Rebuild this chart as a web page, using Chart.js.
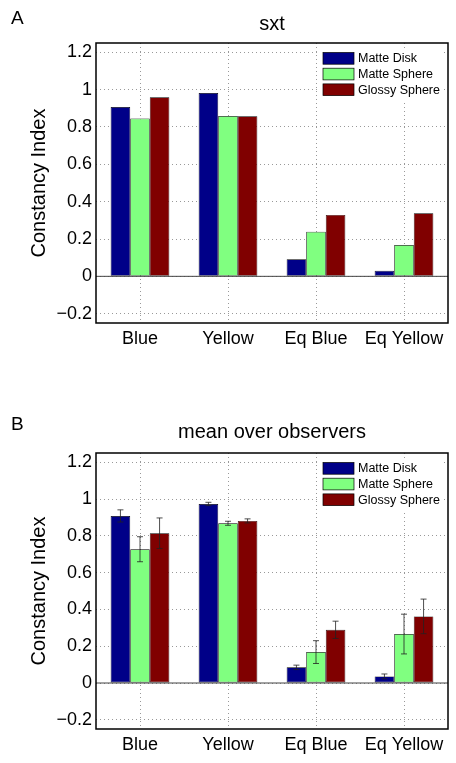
<!DOCTYPE html>
<html>
<head>
<meta charset="utf-8">
<script src="https://cdn.jsdelivr.net/npm/chart.js@4.4.1/dist/chart.umd.min.js"></script>
<style>
  html, body { margin: 0; padding: 0; background: #fff; }
  #wrap { position: relative; width: 456px; height: 763px; }
  .panel { position: absolute; left: 0; width: 456px; }
</style>
</head>
<body>
<div id="wrap">
  <div class="panel" style="top:0;height:360px"><canvas id="chartA" width="456" height="360"></canvas></div>
  <div class="panel" style="top:370px;height:393px"><canvas id="chartB" width="456" height="393"></canvas></div>
</div>
<script>
const categories = ['Blue', 'Yellow', 'Eq Blue', 'Eq Yellow'];
const seriesNames = ['Matte Disk', 'Matte Sphere', 'Glossy Sphere'];
const seriesColors = ['#000088', '#80ff80', '#800000'];
const yTicks = [-0.2, 0, 0.2, 0.4, 0.6, 0.8, 1, 1.2];

// panel A: sxt
const diskA = [0.907, 0.982, 0.091, 0.030];
const sphereA = [0.845, 0.859, 0.239, 0.168];
const glossyA = [0.959, 0.857, 0.329, 0.338];

// panel B: mean over observers, with error bars
const diskB = [0.908, 0.973, 0.085, 0.036];
const sphereB = [0.727, 0.868, 0.168, 0.266];
const glossyB = [0.814, 0.881, 0.289, 0.362];
const diskErrB = [0.033, 0.009, 0.012, 0.013];
const sphereErrB = [0.068, 0.011, 0.062, 0.108];
const glossyErrB = [0.083, 0.011, 0.047, 0.094];

Chart.defaults.font.family = '"Liberation Sans", Arial, Helvetica, sans-serif';
Chart.defaults.color = '#000';

// letter, title, box, baseline and legend drawn around the plot area
const panelPlugin = {
    id: 'panel',
    beforeDatasetsDraw(chart) {
        const { ctx, chartArea: a, scales } = chart;
        const y0 = scales.y.getPixelForValue(0);
        ctx.save();
        ctx.strokeStyle = '#444';
        ctx.lineWidth = 1;
        ctx.beginPath();
        ctx.moveTo(a.left, y0);
        ctx.lineTo(a.right, y0);
        ctx.stroke();
        ctx.restore();
    },
    afterDraw(chart, args, opts) {
        const { ctx, chartArea: a } = chart;
        ctx.save();
        // box
        ctx.strokeStyle = '#000';
        ctx.lineWidth = 1.5;
        ctx.strokeRect(a.left, a.top, a.right - a.left, a.bottom - a.top);

        // panel letter and title
        ctx.fillStyle = '#000';
        ctx.textBaseline = 'middle';
        ctx.textAlign = 'left';
        ctx.font = '19px "Liberation Sans", Arial, sans-serif';
        ctx.fillText(opts.letter, 11, opts.letterY);
        ctx.textAlign = 'center';
        ctx.font = '20px "Liberation Sans", Arial, sans-serif';
        ctx.fillText(opts.title, (a.left + a.right) / 2, opts.titleY);

        // legend
        const lx = a.right - 128, ly = a.top + 5;
        ctx.fillStyle = '#fff';
        ctx.fillRect(lx, ly, 121, 52);
        ctx.font = '12.5px "Liberation Sans", Arial, sans-serif';
        ctx.textAlign = 'left';
        chart.data.datasets.forEach((ds, i) => {
            const sy = a.top + 9.5 + i * 15.7;
            ctx.fillStyle = ds.backgroundColor;
            ctx.fillRect(a.right - 125, sy, 31, 11.7);
            ctx.strokeStyle = '#000';
            ctx.lineWidth = 0.7;
            ctx.strokeRect(a.right - 125, sy, 31, 11.7);
            ctx.fillStyle = '#000';
            ctx.fillText(ds.label, a.right - 90, sy + 6.2);
        });
        ctx.restore();
    }
};

const errorBarPlugin = {
    id: 'errbars',
    afterDatasetsDraw(chart, args, opts) {
        if (!opts.errors) return;
        const { ctx, scales } = chart;
        ctx.save();
        ctx.strokeStyle = '#222';
        ctx.lineWidth = 0.8;
        chart.data.datasets.forEach((ds, i) => {
            const meta = chart.getDatasetMeta(i);
            meta.data.forEach((bar, j) => {
                const v = ds.data[j], e = opts.errors[i][j];
                const yHi = scales.y.getPixelForValue(v + e);
                const yLo = scales.y.getPixelForValue(v - e);
                const x = bar.x;
                ctx.beginPath();
                ctx.moveTo(x, yHi); ctx.lineTo(x, yLo);
                ctx.moveTo(x - 3, yHi); ctx.lineTo(x + 3, yHi);
                ctx.moveTo(x - 3, yLo); ctx.lineTo(x + 3, yLo);
                ctx.stroke();
            });
        });
        ctx.restore();
    }
};

function makeChart(id, values, errors, letter, letterY, title, titleY, padTop, padBottom) {
    const ctx = document.getElementById(id).getContext('2d');
    return new Chart(ctx, {
        type: 'bar',
        data: {
            labels: categories,
            datasets: values.map((vals, i) => ({
                label: seriesNames[i],
                data: vals,
                backgroundColor: seriesColors[i],
                borderColor: '#000',
                borderWidth: 0.7,
                borderSkipped: false,
                barPercentage: 1,
                categoryPercentage: 0.667
            }))
        },
        options: {
            responsive: false,
            animation: false,
            layout: { padding: { top: padTop, right: 8, bottom: padBottom, left: 0 } },
            plugins: {
                legend: { display: false },
                tooltip: { enabled: false },
                title: { display: false },
                panel: { letter: letter, letterY: letterY, title: title, titleY: titleY },
                errbars: { errors: errors }
            },
            scales: {
                x: {
                    type: 'category',
                    offset: true,
                    grid: { offset: false, color: '#999', lineWidth: 1, drawTicks: false },
                    border: { display: false, dash: [1, 3] },
                    ticks: { font: { size: 18 }, padding: 5, maxRotation: 0, autoSkip: false },
                    afterFit(scale) { scale.height = 30; }
                },
                y: {
                    type: 'linear',
                    min: -0.25,
                    max: 1.25,
                    grid: { color: '#999', lineWidth: 1, drawTicks: false },
                    border: { display: false, dash: [1, 3] },
                    ticks: {
                        font: { size: 18 },
                        padding: 4,
                        callback: (v) => v < 0 ? '\u2212' + Math.abs(v) : String(v)
                    },
                    afterBuildTicks(scale) { scale.ticks = yTicks.map(v => ({ value: v })); },
                    title: {
                        display: true,
                        text: 'Constancy Index',
                        font: { size: 20 },
                        padding: { top: 27, bottom: 0 }
                    },
                    afterFit(scale) { scale.width = 96; }
                }
            }
        },
        plugins: [panelPlugin, errorBarPlugin]
    });
}

makeChart('chartA', [diskA, sphereA, glossyA], null, 'A', 19, 'sxt', 24, 43, 7);
makeChart('chartB', [diskB, sphereB, glossyB], [diskErrB, sphereErrB, glossyErrB], 'B', 55, 'mean over observers', 62, 83, 4);
</script>
</body>
</html>
